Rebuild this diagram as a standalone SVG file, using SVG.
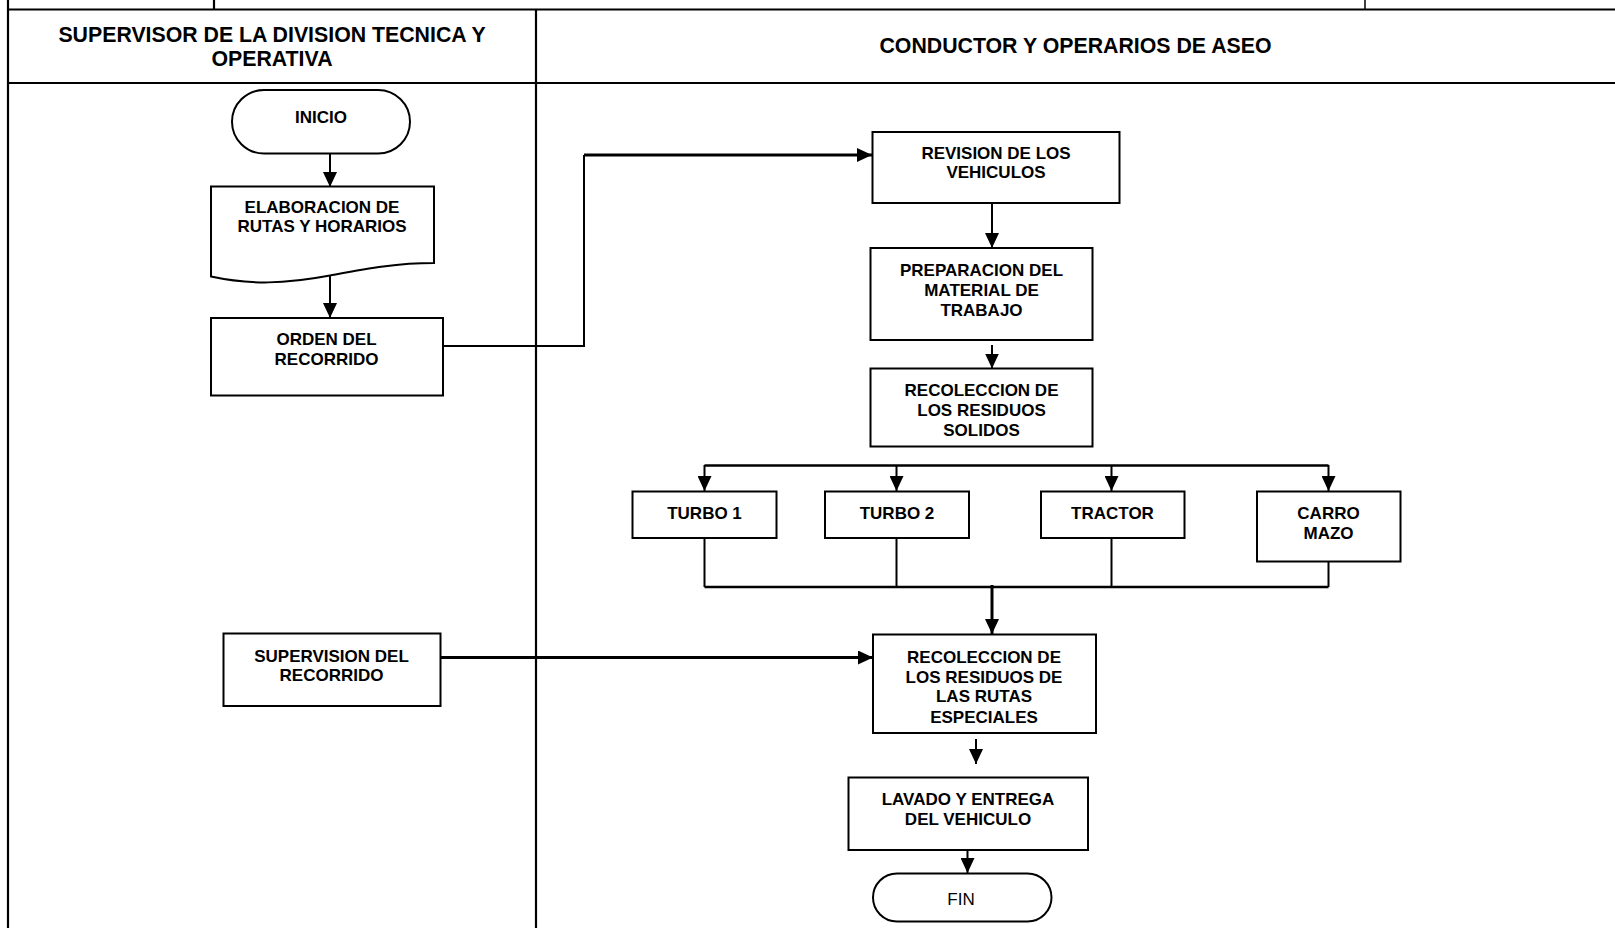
<svg xmlns="http://www.w3.org/2000/svg" width="1615" height="928" viewBox="0 0 1615 928">
<style>
  .frame { stroke: #000; stroke-width: 2.2; fill: none; }
  .box { fill: #fff; stroke: #000; stroke-width: 2; }
  .t { font-family: "Liberation Sans", Arial, sans-serif; font-weight: bold; font-size: 17px; fill: #000; text-anchor: middle; }
  .h { font-family: "Liberation Sans", Arial, sans-serif; font-weight: bold; font-size: 21.3px; fill: #000; text-anchor: middle; }
  .r { font-family: "Liberation Sans", Arial, sans-serif; font-size: 17px; fill: #000; text-anchor: middle; }
  .c { stroke: #000; stroke-width: 2; fill: none; }
  .ct { stroke: #000; stroke-width: 3; fill: none; }
</style>
<defs>
  <marker id="ah" viewBox="0 0 10 10" refX="10" refY="5" markerWidth="15" markerHeight="14" markerUnits="userSpaceOnUse" orient="auto" preserveAspectRatio="none">
    <path d="M0,0 L10,5 L0,10 z" fill="#000"/>
  </marker>
</defs>
<rect width="1615" height="928" fill="#fff"/>

<g id="frame">
  <line class="frame" x1="8" y1="9.5" x2="1615" y2="9.5"/>
  <line class="frame" x1="214" y1="0" x2="214" y2="9.5"/>
  <line class="frame" x1="1365" y1="0" x2="1365" y2="9.5" style="stroke-width:1.5"/>
  <line class="frame" x1="8" y1="0" x2="8" y2="928"/>
  <line class="frame" x1="536" y1="9.5" x2="536" y2="928"/>
  <line class="frame" x1="8" y1="83" x2="1615" y2="83"/>
  <text class="h" x="272" y="41.5">SUPERVISOR DE LA DIVISION TECNICA Y</text>
  <text class="h" x="272" y="65.5">OPERATIVA</text>
  <text class="h" x="1075.5" y="53">CONDUCTOR Y OPERARIOS DE ASEO</text>
</g>

<g id="connectors">
  <line class="c" x1="330" y1="153.5" x2="330" y2="187" marker-end="url(#ah)"/>
  <line class="c" x1="330" y1="275" x2="330" y2="318" marker-end="url(#ah)"/>
  <path class="c" d="M441,346 H584 V155"/>
  <path class="ct" d="M584,155 H872" marker-end="url(#ah)"/>
  <line class="c" x1="992" y1="203" x2="992" y2="248" marker-end="url(#ah)"/>
  <line class="c" x1="992" y1="345" x2="992" y2="368.5" marker-end="url(#ah)"/>
  <path class="ct" d="M704.5,465.5 H1328.5" style="stroke-width:2.5"/>
  <line class="c" x1="704.5" y1="465" x2="704.5" y2="491" marker-end="url(#ah)"/>
  <line class="c" x1="896.5" y1="465" x2="896.5" y2="491" marker-end="url(#ah)"/>
  <line class="c" x1="1111.5" y1="465" x2="1111.5" y2="491" marker-end="url(#ah)"/>
  <line class="c" x1="1328.5" y1="465" x2="1328.5" y2="491" marker-end="url(#ah)"/>
  <line class="c" x1="704.5" y1="538" x2="704.5" y2="587"/>
  <line class="c" x1="896.5" y1="538" x2="896.5" y2="587"/>
  <line class="c" x1="1111.5" y1="538" x2="1111.5" y2="587"/>
  <line class="c" x1="1328.5" y1="561.5" x2="1328.5" y2="587"/>
  <path class="ct" d="M704.5,587 H1328.5" style="stroke-width:2.5"/>
  <line class="ct" x1="992" y1="585" x2="992" y2="634" marker-end="url(#ah)"/>
  <path class="ct" d="M440.5,657.5 H873" marker-end="url(#ah)"/>
  <line class="c" x1="976" y1="739" x2="976" y2="764" marker-end="url(#ah)"/>
  <line class="c" x1="967.5" y1="850" x2="967.5" y2="873" marker-end="url(#ah)"/>
</g>

<g id="inicio">
  <rect class="box" x="232" y="90" width="178" height="63.5" rx="32" ry="32"/>
  <text class="t" x="321" y="123">INICIO</text>
</g>

<g id="elaboracion">
  <path class="box" d="M211,186.5 H434 V263 C395,263 365,269 330,275.5 C285,284 250,285 211,276.5 Z"/>
  <text class="t" x="322" y="212.5">ELABORACION DE</text>
  <text class="t" x="322" y="232">RUTAS Y HORARIOS</text>
</g>

<g id="orden">
  <rect class="box" x="211" y="318" width="232" height="77.5"/>
  <text class="t" x="326.5" y="345">ORDEN DEL</text>
  <text class="t" x="326.5" y="364.5">RECORRIDO</text>
</g>

<g id="revision">
  <rect class="box" x="872.5" y="132" width="247" height="71"/>
  <text class="t" x="996" y="159">REVISION DE LOS</text>
  <text class="t" x="996" y="178">VEHICULOS</text>
</g>

<g id="preparacion">
  <rect class="box" x="870.5" y="248" width="222" height="92"/>
  <text class="t" x="981.5" y="276">PREPARACION DEL</text>
  <text class="t" x="981.5" y="296">MATERIAL DE</text>
  <text class="t" x="981.5" y="315.5">TRABAJO</text>
</g>

<g id="recoleccion-solidos">
  <rect class="box" x="870.5" y="368.5" width="222" height="78"/>
  <text class="t" x="981.5" y="396">RECOLECCION DE</text>
  <text class="t" x="981.5" y="415.5">LOS RESIDUOS</text>
  <text class="t" x="981.5" y="435.5">SOLIDOS</text>
</g>

<g id="turbo1">
  <rect class="box" x="632.5" y="491.5" width="144" height="46.5"/>
  <text class="t" x="704.5" y="519">TURBO 1</text>
</g>

<g id="turbo2">
  <rect class="box" x="825" y="491.5" width="144" height="46.5"/>
  <text class="t" x="897" y="519">TURBO 2</text>
</g>

<g id="tractor">
  <rect class="box" x="1041" y="491.5" width="143.5" height="46.5"/>
  <text class="t" x="1112.5" y="519">TRACTOR</text>
</g>

<g id="carro-mazo">
  <rect class="box" x="1257" y="491.5" width="143.5" height="70"/>
  <text class="t" x="1328.5" y="519">CARRO</text>
  <text class="t" x="1328.5" y="539">MAZO</text>
</g>

<g id="supervision">
  <rect class="box" x="223.5" y="633.5" width="217" height="72.5"/>
  <text class="t" x="331.5" y="661.5">SUPERVISION DEL</text>
  <text class="t" x="331.5" y="681">RECORRIDO</text>
</g>

<g id="recoleccion-especiales">
  <rect class="box" x="873" y="634.5" width="223" height="98.5"/>
  <text class="t" x="984" y="663">RECOLECCION DE</text>
  <text class="t" x="984" y="682.5">LOS RESIDUOS DE</text>
  <text class="t" x="984" y="702">LAS RUTAS</text>
  <text class="t" x="984" y="722.5">ESPECIALES</text>
</g>

<g id="lavado">
  <rect class="box" x="848.5" y="777.5" width="239.5" height="72.5"/>
  <text class="t" x="968" y="805">LAVADO Y ENTREGA</text>
  <text class="t" x="968" y="825">DEL VEHICULO</text>
</g>

<g id="fin">
  <rect class="box" x="873" y="873.5" width="178.5" height="48" rx="24" ry="24"/>
  <text class="r" x="961" y="905">FIN</text>
</g>
</svg>
